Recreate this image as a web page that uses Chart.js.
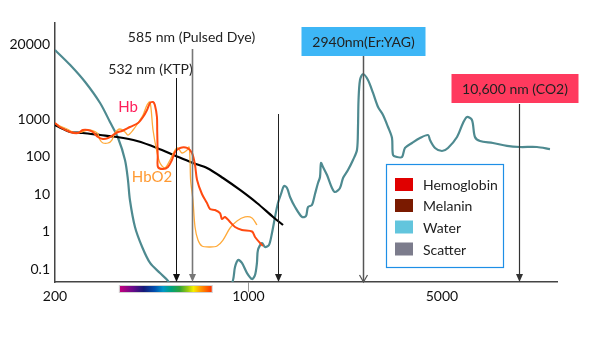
<!DOCTYPE html>
<html>
<head>
<meta charset="utf-8">
<script src="https://cdn.jsdelivr.net/npm/chart.js@4/dist/chart.umd.min.js"></script>
<style>
  html, body { margin: 0; padding: 0; background: #fff; }
  #wrap { width: 600px; height: 349px; position: relative; }
</style>
</head>
<body>
<div id="wrap"><canvas id="c" width="600" height="349"></canvas></div>
<script>
// ---------- DATA (wavelength in nm, absorption on log axis) ----------
const xTickValues = [200, 1000, 5000];
const xTickLabels = ['200', '1000', '5000'];
const yTickValues = [0.1, 1, 10, 100, 1000, 100000];
const yTickLabels = ['0.1', '1', '10', '100', '1000', '20000'];

const waterWavelength = [200, 227, 257, 291, 316, 338, 358, 367, 373, 389, 413, 441, 479, 512, 668, 872,
  894, 917, 947, 988, 1030, 1056, 1073, 1082, 1119, 1147, 1186, 1216, 1247, 1278, 1311, 1344, 1378, 1413,
  1473, 1561, 1614, 1641, 1696, 1739, 1783, 1813, 1828, 1859, 1922, 2003, 2054, 2141, 2196, 2288, 2386,
  2466, 2487, 2498, 2529, 2593, 2702, 2818, 2938, 3062, 3192, 3300, 3328, 3440, 3587, 3677, 3898, 4165,
  4452, 4527, 4720, 5002, 5258, 5668, 5958, 6156, 6418, 6580, 6861, 7644, 8590, 9570, 11022, 12282];
const waterAbs = [69200, 27500, 9700, 2670, 832, 311, 80.7, 23.6, 6.92, 1.32, 0.386, 0.145, 0.078, 0.048, 0.002, 0.042,
  0.113, 0.174, 0.145, 0.078, 0.054, 0.069, 0.145, 0.321, 0.493, 0.386, 0.436, 0.912, 2.44, 5.75, 10, 16.3, 14.5, 8.32,
  4.5, 2.44, 2.59, 4.5, 5.09, 10, 19.6, 28.4, 67.1, 52.5, 32.1, 14.5, 11.3, 14.5, 26.7, 43.6, 80.7,
  149, 612, 3210, 10960, 15850, 10960, 4940, 2090, 1279, 612, 311, 110, 97, 97, 169, 229, 311,
  374, 275, 169, 140, 169, 331, 782, 1131, 940, 331, 259, 229, 191, 179, 179, 158];

const melaninWavelength = [200, 214, 227, 252, 291, 335, 396, 467, 552, 630, 708, 809, 932, 1073, 1227, 1333];
const melaninAbs = [692, 541, 450, 423, 374, 331, 259, 169, 100, 67.1, 49.4, 26.7, 12.8, 5.75, 2.44, 1.49];

const hbWavelength = [200, 208, 227, 242, 252, 263, 274, 286, 298, 311, 324, 338, 349, 373, 399, 416, 430, 441,
  452, 459, 467, 468, 469, 470, 471, 491, 512, 529, 543, 566, 600, 625, 641, 652, 679, 708, 726, 757, 789,
  802, 823, 858, 894, 947, 1030, 1056, 1101, 1128];
const hbAbs = [782, 612, 450, 423, 509, 509, 450, 331, 293, 311, 374, 450, 479, 612, 782, 1131, 1738, 2670,
  2840, 2360, 1131, 509, 229, 97, 52.5, 46.4, 52.5, 80.7, 132, 169, 169, 124, 59.3, 23.6, 10, 5.75, 3.98, 3.74, 3.11,
  2.15, 2.44, 1.79, 1.32, 1.10, 1.0, 0.713, 0.493, 0.41];

const hbo2Wavelength = [200, 205, 221, 236, 250, 263, 284, 291, 298, 311, 321, 329, 343, 358, 367, 383, 399, 416,
  430, 441, 452, 467, 479, 499, 521, 543, 556, 575, 600, 610, 615, 618, 630, 641, 657, 679, 726, 770, 809, 858,
  909, 972, 1030, 1073];
const hbo2Abs = [782, 692, 541, 423, 450, 509, 423, 275, 229, 229, 275, 423, 541, 450, 374, 509, 782, 1279,
  2360, 2840, 509, 132, 67.1, 49.4, 80.7, 149, 169, 124, 149, 179, 80.7, 23.6, 6.92, 1.32, 0.593, 0.41, 0.386, 0.41,
  0.593, 1.24, 1.91, 2.44, 2.29, 1.49];

const laserWavelengths = [547, 623, 1282, 2600, 9460];
const laserLabels = ['532 nm (KTP)', '585 nm (Pulsed Dye)', '', '2940nm(Er:YAG)', '10,600 nm (CO2)'];

const legendLabels = ['Hemoglobin', 'Melanin', 'Water', 'Scatter'];
const curveLabels = ['Hb', 'HbO2'];
const spectrumRange = [343, 737];

// ---------- STYLES ----------
const FONT = 'Lato, "Open Sans", sans-serif';
const legendColors = ['#E00000', '#7A1A00', '#62C5DD', '#7C7C8C'];
const laserStyles = [
  { top: 78, color: '#111', lw: 1, text: { dx: -26, y: 69 } },
  { top: 49, color: '#777', lw: 1.6, text: { dx: -1, y: 37 } },
  { top: 114, color: '#222', lw: 1 },
  { top: 56, color: '#555', lw: 1.5, open: true, box: { fill: '#3DB6F6', dx: 0, w: 124, y: 27, h: 29 } },
  { top: 104, color: '#333', lw: 1.2, box: { fill: '#FF3A5E', dx: -4.5, w: 127, y: 74, h: 29 } }
];

function pts(xs, ys) { return xs.map((x, i) => ({ x: x, y: ys[i] })); }

const annotPlugin = {
  id: 'annot',
  afterDatasetsDraw(chart) {
    const ctx = chart.ctx;
    const xs = chart.scales.x;
    const area = chart.chartArea;
    ctx.save();
    // lasers
    laserWavelengths.forEach((w, i) => {
      const st = laserStyles[i];
      const x = Math.round(xs.getPixelForValue(w)) + 0.5;
      const y1 = area.bottom;
      ctx.strokeStyle = st.color;
      ctx.fillStyle = st.color;
      ctx.lineWidth = st.lw;
      ctx.beginPath();
      ctx.moveTo(x, st.top);
      ctx.lineTo(x, y1 - (st.open ? 1 : 6));
      ctx.stroke();
      if (st.open) {
        ctx.lineWidth = 1.2;
        ctx.beginPath();
        ctx.moveTo(x - 4, y1 - 7);
        ctx.lineTo(x, y1);
        ctx.lineTo(x + 4, y1 - 7);
        ctx.stroke();
      } else {
        ctx.beginPath();
        ctx.moveTo(x - 3.5, y1 - 8);
        ctx.lineTo(x + 3.5, y1 - 8);
        ctx.lineTo(x, y1);
        ctx.closePath();
        ctx.fill();
      }
      ctx.font = '14px ' + FONT;
      ctx.textAlign = 'center';
      ctx.textBaseline = 'middle';
      if (st.box) {
        const cx = x + st.box.dx;
        ctx.fillStyle = st.box.fill;
        ctx.fillRect(cx - st.box.w / 2, st.box.y, st.box.w, st.box.h);
        ctx.fillStyle = '#222';
        ctx.fillText(laserLabels[i], cx, st.box.y + st.box.h / 2 + 1);
      } else if (st.text && laserLabels[i]) {
        ctx.fillStyle = '#222';
        ctx.fillText(laserLabels[i], x + st.text.dx, st.text.y);
      }
    });
    // curve labels
    ctx.font = '15px ' + FONT;
    ctx.textAlign = 'center';
    ctx.textBaseline = 'middle';
    ctx.fillStyle = '#FF1E5A';
    ctx.fillText(curveLabels[0], 128, 107);
    ctx.fillStyle = '#FF9A33';
    ctx.fillText(curveLabels[1], 152, 177);
    // spectrum bar
    const sx0 = xs.getPixelForValue(spectrumRange[0]);
    const sx1 = xs.getPixelForValue(spectrumRange[1]);
    const g = ctx.createLinearGradient(sx0, 0, sx1, 0);
    const stops = [[0, '#C4007E'], [0.14, '#6A0A8A'], [0.26, '#141A78'], [0.38, '#0050B0'], [0.47, '#0098C8'],
      [0.56, '#00A27A'], [0.65, '#2EA33A'], [0.74, '#9CCB10'], [0.8, '#F4F000'], [0.88, '#FF9800'], [1, '#FF3200']];
    stops.forEach(s => g.addColorStop(s[0], s[1]));
    ctx.fillStyle = g;
    ctx.fillRect(sx0, area.bottom + 4, sx1 - sx0, 6);
    ctx.strokeStyle = 'rgba(180,180,180,0.6)';
    ctx.lineWidth = 1;
    ctx.strokeRect(sx0 - 0.5, area.bottom + 3.5, sx1 - sx0 + 1, 7);
    // legend
    const lx = 386.5, ly = 164.5, lw = 117, lh = 103;
    ctx.fillStyle = '#fff';
    ctx.fillRect(lx, ly, lw, lh);
    ctx.strokeStyle = '#1E8FE6';
    ctx.lineWidth = 1.2;
    ctx.strokeRect(lx, ly, lw, lh);
    const rows = [184.5, 205.5, 227, 249];
    ctx.font = '14px ' + FONT;
    ctx.textAlign = 'left';
    ctx.textBaseline = 'middle';
    legendLabels.forEach((t, i) => {
      ctx.fillStyle = legendColors[i];
      ctx.fillRect(395, rows[i] - 6.5, 18, 13);
      ctx.fillStyle = '#222';
      ctx.fillText(t, 423, rows[i] + 1);
    });
    ctx.restore();
  }
};

new Chart(document.getElementById('c'), {
  type: 'line',
  data: {
    datasets: [
      { label: 'Hb', data: pts(hbWavelength, hbAbs), borderColor: '#FF4A10', borderWidth: 2, tension: 0.3 },
      { label: 'HbO2', data: pts(hbo2Wavelength, hbo2Abs), borderColor: '#FFAA3A', borderWidth: 1.3, tension: 0.3 },
      { label: 'Melanin', data: pts(melaninWavelength, melaninAbs), borderColor: '#000', borderWidth: 2.2, tension: 0.3 },
      { label: 'Water', data: pts(waterWavelength, waterAbs), borderColor: '#4E8A90', borderWidth: 2.2, tension: 0.3 }
    ]
  },
  options: {
    responsive: false,
    animation: false,
    events: [],
    layout: { padding: { top: 23, right: 43, left: 0, bottom: 0 } },
    elements: { point: { radius: 0 } },
    plugins: { legend: { display: false }, tooltip: { enabled: false } },
    scales: {
      x: {
        type: 'logarithmic', min: 200, max: 13020, bounds: 'data',
        afterBuildTicks: s => { s.ticks = xTickValues.map(v => ({ value: v })); },
        afterFit: s => { s.height = 67; },
        ticks: {
          autoSkip: false, maxRotation: 0, padding: -4, color: '#111',
          font: { family: FONT, size: 14 },
          callback: (v, i) => xTickLabels[i]
        },
        grid: {
          display: true, drawOnChartArea: false, drawTicks: true, tickLength: 10,
          color: c => (c.tick && c.tick.value === 1000) ? '#999' : 'rgba(0,0,0,0)'
        },
        border: { display: true, color: '#444', width: 1.5 }
      },
      y: {
        type: 'logarithmic', min: 0.045, max: 363000, bounds: 'data',
        afterBuildTicks: s => { s.ticks = yTickValues.map(v => ({ value: v })); },
        afterFit: s => { s.width = 55; },
        ticks: {
          autoSkip: false, padding: 5, color: '#111',
          font: { family: FONT, size: 14 },
          callback: (v, i) => yTickLabels[i]
        },
        grid: { display: false, drawTicks: false },
        border: { display: true, color: '#444', width: 1.5 }
      }
    }
  },
  plugins: [annotPlugin]
});
</script>
</body>
</html>
